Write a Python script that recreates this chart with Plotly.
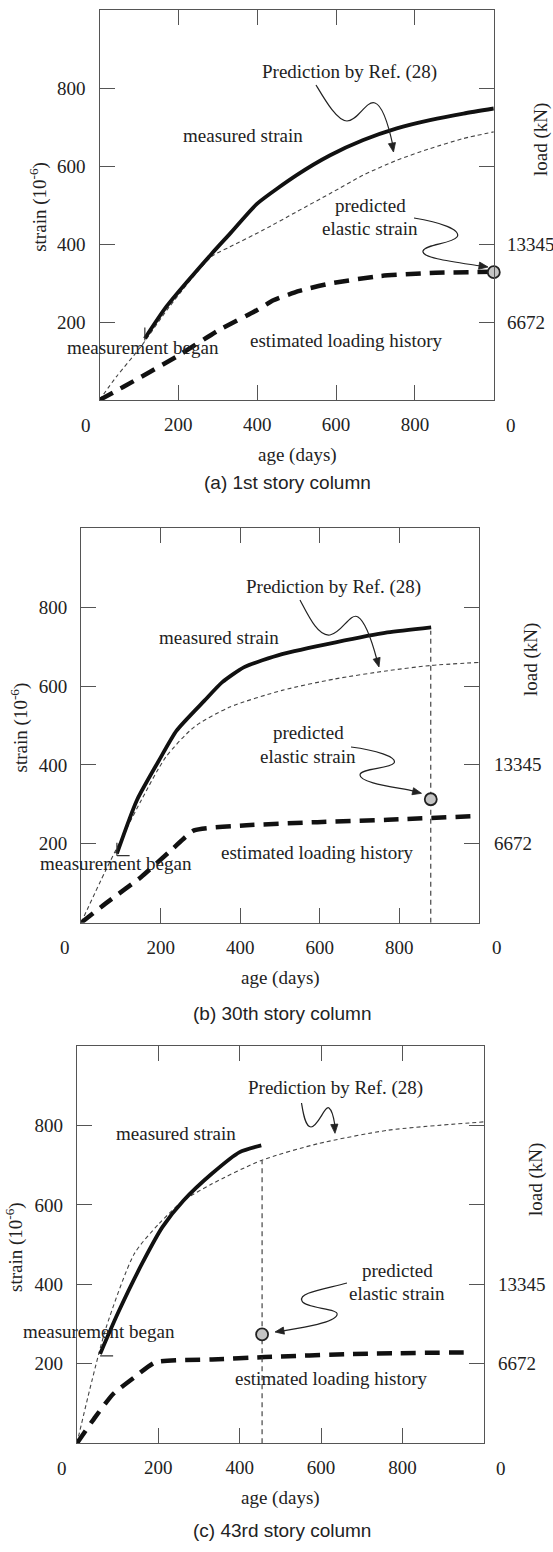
import math
import plotly.graph_objects as go

W, H = 553, 1552

# ---------------- data (age in days, strain in 1e-6) ----------------
# (a) 1st story column
a_measured_age = [115, 170, 285, 331, 400, 500, 585, 669, 754, 838, 923, 1000]
a_measured_strain = [158, 240, 376, 427, 504, 577, 628, 667, 697, 718, 735, 748]
a_predicted_age = [0, 43, 105, 177, 284, 331, 415, 500, 585, 669, 754, 838, 923, 1000]
a_predicted_strain = [0, 60, 137, 239, 368, 393, 436, 483, 530, 577, 615, 645, 671, 688]
a_load_age = [0, 61, 195, 302, 400, 441, 507, 585, 711, 838, 1000]
a_load_strain = [0, 34, 111, 179, 231, 256, 280, 299, 318, 326, 329]

# (b) 30th story column
b_measured_age = [90, 140, 195, 240, 310, 355, 410, 505, 640, 770, 880]
b_measured_strain = [175, 310, 410, 487, 563, 610, 648, 681, 711, 736, 749]
b_predicted_age = [0, 62, 151, 213, 284, 372, 505, 638, 771, 877, 1000]
b_predicted_strain = [0, 133, 310, 420, 496, 546, 589, 618, 639, 652, 660]
b_load_age = [0, 62, 151, 231, 284, 416, 594, 771, 985]
b_load_strain = [0, 49, 116, 188, 234, 247, 255, 261, 270]

# (c) 43rd story column
c_measured_age = [57, 100, 160, 210, 262, 332, 400, 453]
c_measured_strain = [225, 326, 452, 544, 611, 679, 733, 750]
c_predicted_age = [0, 37, 72, 141, 202, 262, 332, 453, 592, 765, 1000]
c_predicted_strain = [0, 158, 292, 477, 553, 611, 653, 712, 754, 788, 809]
c_load_age = [0, 45, 89, 141, 193, 332, 462, 678, 973]
c_load_strain = [0, 66, 124, 166, 204, 211, 217, 225, 229]

# predicted elastic strain at the last reading, and top of its drop line
elastic_age = [1000, 879, 455]
elastic_strain = [328, 313, 274]
drop_line_top = [None, 740, 712]

age_ticks = [200, 400, 600, 800]
strain_ticks = [200, 400, 600, 800]
load_tick_strain = [400, 200]
load_tick_text = ["13345", "6672"]
captions = ["(a) 1st story column", "(b) 30th story column", "(c) 43rd story column"]

# ---------------- layout helpers ----------------
SERIF = "Liberation Serif"
SANS = "Liberation Sans"
INK = "#222222"
FRAME = "#555555"
FS = 19


def fx(px):
    return px / W


def fy(py):
    return 1 - py / H


def bezier(points):
    """points in pixels: start, then triples of (c1, c2, end)."""
    x0, y0 = points[0]
    s = f"M {fx(x0):.5f},{fy(y0):.5f}"
    rest = points[1:]
    for i in range(0, len(rest), 3):
        seg = rest[i:i + 3]
        s += " C " + " ".join(f"{fx(x):.5f},{fy(y):.5f}" for x, y in seg)
    return s


def arrowhead(tip, tail, length=9, half=3.6):
    tx, ty = tip
    dx, dy = tx - tail[0], ty - tail[1]
    d = math.hypot(dx, dy)
    ux, uy = dx / d, dy / d
    nx, ny = -uy, ux
    bx, by = tx - length * ux, ty - length * uy
    pts = [(tx, ty), (bx + half * nx, by + half * ny), (bx - half * nx, by - half * ny)]
    return "M " + " L ".join(f"{fx(x):.5f},{fy(y):.5f}" for x, y in pts) + " Z"


panels = [
    dict(
        box=(99.5, 10.3, 493.8, 400.0),
        meas=(a_measured_age, a_measured_strain),
        pred=(a_predicted_age, a_predicted_strain),
        load=(a_load_age, a_load_strain),
        ylab=(38.8, 207), loadlab=(541, 140), rlabx=505, zero_l=85.7, zero_r=511.4,
        tick_y=425, xtitle=(297, 455), cap=(287.5, 482),
        txt_pred=(349, 72), txt_meas=(243, 135), txt_el=(370, 206, 228),
        txt_began=(143, 347), txt_load=(346, 340),
        sq_pred=[(316, 85), (325, 100), (337, 121), (347, 121), (358, 121), (366, 100), (375, 103),
                 (384, 106), (390, 132), (393, 146)],
        tip_pred=(393.5, 152),
        sq_el=[(414, 218), (440, 222), (462, 230), (457, 237), (452, 244), (425, 244), (423, 251),
               (421, 258), (455, 262), (481, 266)],
        tip_el=(488, 267),
        began_v=True, began_h=False,
    ),
    dict(
        box=(81.1, 528.3, 478.9, 922.7),
        meas=(b_measured_age, b_measured_strain),
        pred=(b_predicted_age, b_predicted_strain),
        load=(b_load_age, b_load_strain),
        ylab=(19.4, 727), loadlab=(531, 660), rlabx=492, zero_l=65.2, zero_r=496.6,
        tick_y=947, xtitle=(280, 978), cap=(282, 1013),
        txt_pred=(333, 587), txt_meas=(219, 637), txt_el=(308, 732, 756),
        txt_began=(116, 863), txt_load=(317, 852),
        sq_pred=[(300, 600), (308, 615), (318, 637), (330, 635), (342, 633), (350, 612), (358, 617),
                 (366, 622), (373, 645), (377, 660)],
        tip_pred=(379, 667),
        sq_el=[(351, 747), (375, 750), (398, 757), (394, 763), (390, 769), (360, 768), (360, 775),
               (360, 783), (395, 787), (414, 791)],
        tip_el=(421.5, 793.3),
        began_v=True, began_h=True,
    ),
    dict(
        box=(76.9, 1046.0, 483.9, 1443.3),
        meas=(c_measured_age, c_measured_strain),
        pred=(c_predicted_age, c_predicted_strain),
        load=(c_load_age, c_load_strain),
        ylab=(14, 1247), loadlab=(536, 1180), rlabx=496, zero_l=61.7, zero_r=500.8,
        tick_y=1468, xtitle=(280, 1498), cap=(282, 1530),
        txt_pred=(335, 1088), txt_meas=(176, 1133), txt_el=(397, 1270, 1293),
        txt_began=(99, 1331), txt_load=(331, 1378),
        sq_pred=[(301.5, 1103), (303, 1112), (305, 1127), (311, 1127), (318, 1127), (325, 1105),
                 (329, 1108), (333, 1111), (334, 1120), (335, 1126)],
        tip_pred=(335, 1133.3),
        sq_el=[(347, 1283), (320, 1290), (298, 1293), (302, 1301), (306, 1309), (340, 1308), (337, 1315),
               (334, 1323), (300, 1328), (282, 1331)],
        tip_el=(275, 1332),
        began_v=False, began_h=True,
    ),
]

fig = go.Figure()
annotations = []
shapes = []
layout_axes = {}

for i, p in enumerate(panels):
    n = "" if i == 0 else str(i + 1)
    xr, yr = "x" + n, "y" + n
    x0, y0, x1, y1 = p["box"]

    common = dict(
        range=[0, 1000], showgrid=False, zeroline=False,
        showline=True, linecolor=FRAME, linewidth=1.3, mirror="ticks",
        ticks="inside", ticklen=15, tickwidth=1.3, tickcolor=FRAME,
        tickfont=dict(family=SERIF, size=FS, color=INK), fixedrange=True,
    )
    layout_axes["xaxis" + n] = dict(common, domain=[fx(x0), fx(x1)], anchor=yr,
                                    tickvals=age_ticks, ticklabelstandoff=7)
    layout_axes["yaxis" + n] = dict(common, domain=[fy(y1), fy(y0)], anchor=xr,
                                    tickvals=strain_ticks, ticklabelstandoff=9)

    # prediction by Ref. (28)
    fig.add_trace(go.Scatter(x=p["pred"][0], y=p["pred"][1], xaxis=xr, yaxis=yr, mode="lines",
                             line=dict(color="#444444", width=1.1, dash="4px,3px", shape="spline",
                                       smoothing=0.7),
                             showlegend=False, hoverinfo="skip"))
    # estimated loading history
    fig.add_trace(go.Scatter(x=p["load"][0], y=p["load"][1], xaxis=xr, yaxis=yr, mode="lines",
                             line=dict(color="#111111", width=4.5, dash="15px,9px", shape="spline",
                                       smoothing=0.5),
                             showlegend=False, hoverinfo="skip"))
    # measured strain
    fig.add_trace(go.Scatter(x=p["meas"][0], y=p["meas"][1], xaxis=xr, yaxis=yr, mode="lines",
                             line=dict(color="#111111", width=3.8, shape="spline", smoothing=0.6),
                             showlegend=False, hoverinfo="skip"))
    # drop line at the age of the elastic-strain estimate
    if drop_line_top[i] is not None:
        fig.add_trace(go.Scatter(x=[elastic_age[i], elastic_age[i]], y=[0, drop_line_top[i]],
                                 xaxis=xr, yaxis=yr, mode="lines",
                                 line=dict(color="#333333", width=1.1, dash="5px,4px"),
                                 showlegend=False, hoverinfo="skip"))
    # predicted elastic strain
    fig.add_trace(go.Scatter(x=[elastic_age[i]], y=[elastic_strain[i]], xaxis=xr, yaxis=yr,
                             mode="markers", cliponaxis=False,
                             marker=dict(size=12, color="#c4c4c4",
                                         line=dict(color="#222222", width=1.8)),
                             showlegend=False, hoverinfo="skip"))

    # start-of-measurement corner mark
    sx, sy = p["meas"][0][0], p["meas"][1][0]
    if p["began_v"]:
        shapes.append(dict(type="line", xref=xr, yref=yr, x0=sx, x1=sx, y0=sy - 5, y1=sy + 28,
                           line=dict(color="#333333", width=1.2)))
    if p["began_h"]:
        shapes.append(dict(type="line", xref=xr, yref=yr, x0=sx, x1=sx + 32, y0=sy - 5, y1=sy - 5,
                           line=dict(color="#333333", width=1.2)))

    def txt(text, x, y, size=FS, family=SERIF, xanchor="center", angle=0):
        annotations.append(dict(text=text, x=fx(x), y=fy(y), xref="paper", yref="paper",
                                showarrow=False, xanchor=xanchor, yanchor="middle",
                                textangle=angle,
                                font=dict(family=family, size=size, color=INK)))

    txt("strain (10<sup>-6</sup>)", *p["ylab"], angle=-90)
    txt("load (kN)", *p["loadlab"], angle=-90)
    for v, t in zip(load_tick_strain, load_tick_text):
        py = y1 - (y1 - y0) * v / 1000
        txt(t, p["rlabx"], py, xanchor="left")
    txt("0", p["zero_l"], p["tick_y"])
    txt("0", p["zero_r"], p["tick_y"])
    txt("age (days)", *p["xtitle"])
    txt(captions[i], *p["cap"], family=SANS)
    txt("Prediction by Ref. (28)", *p["txt_pred"])
    txt("measured strain", *p["txt_meas"])
    ex, ey1, ey2 = p["txt_el"]
    txt("predicted", ex, ey1)
    txt("elastic strain", ex, ey2)
    txt("measurement began", *p["txt_began"])
    txt("estimated loading history", *p["txt_load"])

    # squiggly leader lines ending in filled arrowheads
    for key, tkey in (("sq_pred", "tip_pred"), ("sq_el", "tip_el")):
        pts = p[key]
        shapes.append(dict(type="path", xref="paper", yref="paper", path=bezier(pts),
                           line=dict(color=INK, width=1.2)))
        shapes.append(dict(type="path", xref="paper", yref="paper",
                           path=arrowhead(p[tkey], pts[-2]),
                           fillcolor=INK, line=dict(color=INK, width=0.8)))

fig.update_layout(
    width=W, height=H,
    margin=dict(l=0, r=0, t=0, b=0, pad=0),
    paper_bgcolor="white", plot_bgcolor="white",
    showlegend=False,
    annotations=annotations, shapes=shapes,
    **layout_axes,
)

fig.write_html("out.html")
